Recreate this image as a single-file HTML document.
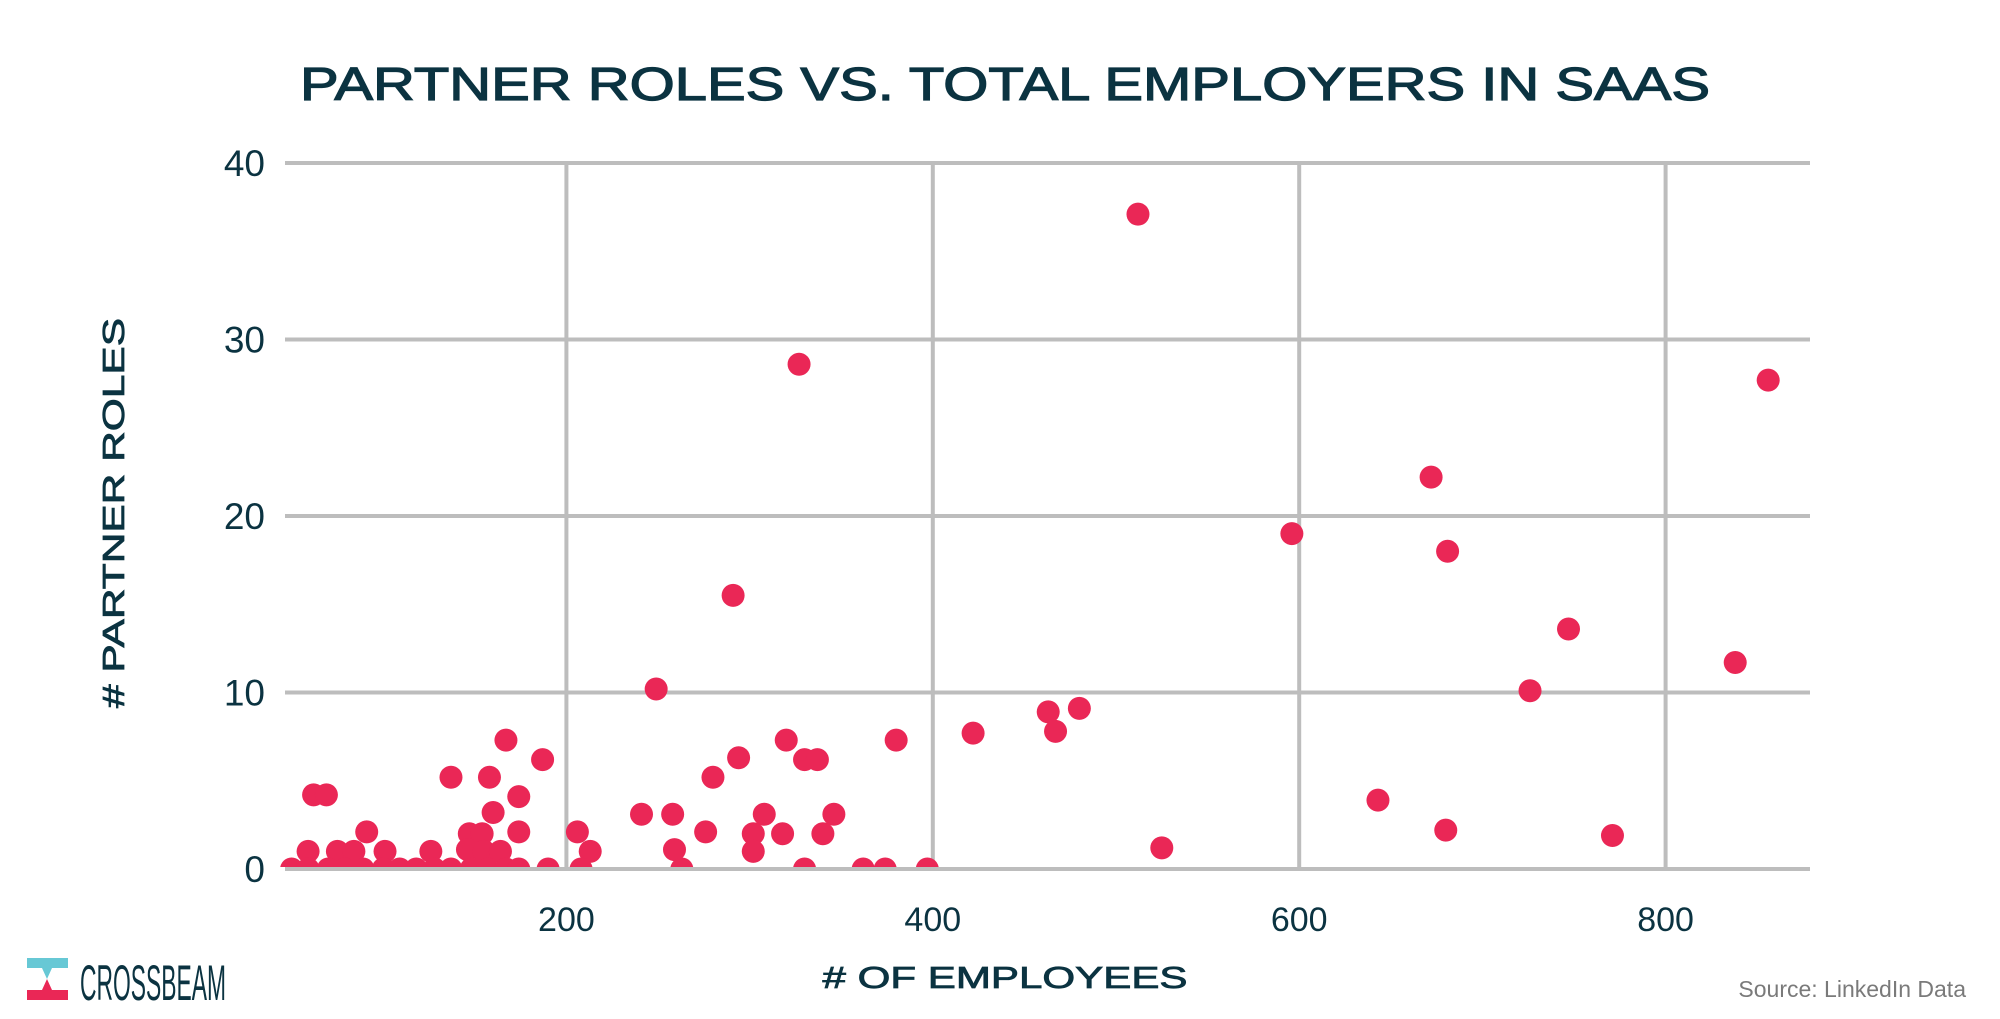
<!DOCTYPE html>
<html><head><meta charset="utf-8"><style>
html,body{margin:0;padding:0;background:#fff;}
svg{display:block;}
text{font-family:"Liberation Sans",sans-serif;}
</style></head><body>
<svg id="chart" width="2000" height="1019" viewBox="0 0 2000 1019" xmlns="http://www.w3.org/2000/svg">
<defs><clipPath id="plotclip"><rect x="0" y="0" width="2000" height="867"/></clipPath></defs>
<text x="1005" y="100" text-anchor="middle" font-size="46" fill="#0b3341" stroke="#0b3341" stroke-width="1.2" textLength="1410" lengthAdjust="spacingAndGlyphs">PARTNER ROLES VS. TOTAL EMPLOYERS IN SAAS</text>
<g id="grid"></g>
<g id="ticks"></g>
<g id="dots" clip-path="url(#plotclip)"></g>
<text transform="translate(124,513) rotate(-90)" text-anchor="middle" font-size="31" fill="#0b3341" stroke="#0b3341" stroke-width="0.8" textLength="390" lengthAdjust="spacingAndGlyphs"># PARTNER ROLES</text>
<text x="1005" y="988" text-anchor="middle" font-size="31" fill="#0b3341" stroke="#0b3341" stroke-width="0.8" textLength="365" lengthAdjust="spacingAndGlyphs"># OF EMPLOYEES</text>
<text x="1966" y="997" text-anchor="end" font-size="23" fill="#7a7a7a">Source: LinkedIn Data</text>
<g>
<polygon points="27,958 68,958 68,968 52,968 47,979 42,968 27,968" fill="#67c8d5"/>
<polygon points="47,979 52,990 68,990 68,1000 27,1000 27,990 42,990" fill="#ea2756"/>
<text x="80" y="1000" font-size="50" fill="#0b3341" textLength="146" lengthAdjust="spacingAndGlyphs">CROSSBEAM</text>
</g>
</svg>
<script>
const xTicks = [200, 400, 600, 800];
const yTicks = [0, 10, 20, 30, 40];
const employees = [512,327,856,672,596,681,291,747,838,249,726,480,463,467,422,380,320,167,187,294,330,337,137,158,280,62,69,174,643,160,241,258,308,346,91,147,154,174,206,276,302,318,340,680,771,525,59,75,84,101,126,146,155,164,213,259,302,50,59,70,79,89,100,109,118,128,137,148,157,167,174,190,208,263,330,362,374,397];
const partnerRoles = [37.1,28.6,27.7,22.2,19,18,15.5,13.6,11.7,10.2,10.1,9.1,8.9,7.8,7.7,7.3,7.3,7.3,6.2,6.3,6.2,6.2,5.2,5.2,5.2,4.2,4.2,4.1,3.9,3.2,3.1,3.1,3.1,3.1,2.1,2.0,2.0,2.1,2.1,2.1,2.0,2.0,2.0,2.2,1.9,1.2,1.0,1.0,1.0,1.0,1.0,1.1,1.0,1.0,1.0,1.1,1.0,0,0,0,0,0,0,0,0,0,0,0,0,0,0,0,0,0,0,0,0,0];
const NS = "http://www.w3.org/2000/svg";
const X0 = 285, X1 = 1810, Y0 = 869, Y1 = 163;
function sx(v){ return 200 + v * 1.832; }
function sy(v){ return 869 - v * 17.65; }
const grid = document.getElementById('grid'), ticks = document.getElementById('ticks'), dots = document.getElementById('dots');
function line(x1,y1,x2,y2){
  const l = document.createElementNS(NS,'line');
  l.setAttribute('x1',x1); l.setAttribute('y1',y1); l.setAttribute('x2',x2); l.setAttribute('y2',y2);
  l.setAttribute('stroke','#bdbdbd'); l.setAttribute('stroke-width','4');
  return l;
}
yTicks.forEach(t => {
  const l = line(X0, sy(t), X1, sy(t));
  
  
  grid.appendChild(l);
  const tx = document.createElementNS(NS,'text');
  
  
  tx.setAttribute('x', 265); tx.setAttribute('y', sy(t) + 13);
  tx.setAttribute('text-anchor','end'); tx.setAttribute('font-size','37'); tx.setAttribute('fill','#0b3341');
  tx.textContent = t; ticks.appendChild(tx);
});
xTicks.forEach(t => {
  const l = line(sx(t), Y1, sx(t), Y0);
  
  
  grid.appendChild(l);
  const tx = document.createElementNS(NS,'text');
  
  
  tx.setAttribute('x', sx(t)); tx.setAttribute('y', 931);
  tx.setAttribute('text-anchor','middle'); tx.setAttribute('font-size','34'); tx.setAttribute('fill','#0b3341');
  tx.textContent = t; ticks.appendChild(tx);
});
employees.forEach((e,i) => {
  const c = document.createElementNS(NS,'circle');
  
  
  c.setAttribute('cx', sx(e)); c.setAttribute('cy', sy(partnerRoles[i]));
  c.setAttribute('r', 11.5); c.setAttribute('fill', '#ea2756');
  dots.appendChild(c);
});
</script>
</body></html>
